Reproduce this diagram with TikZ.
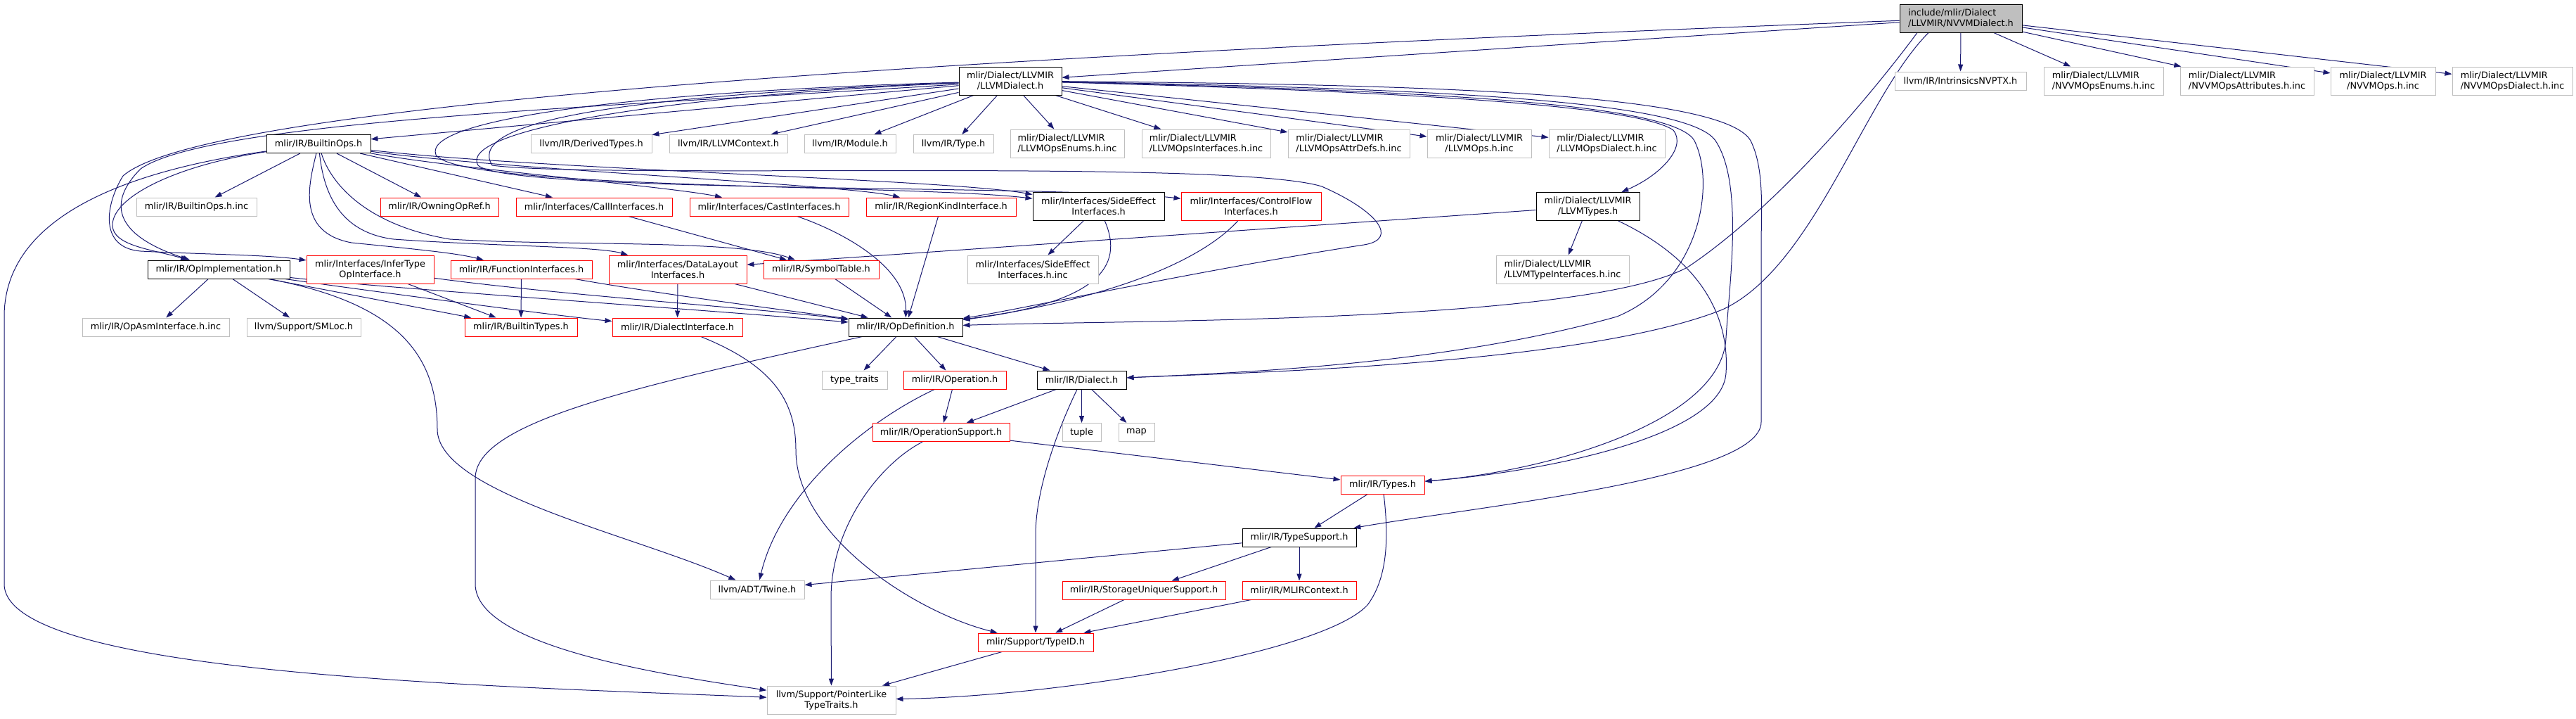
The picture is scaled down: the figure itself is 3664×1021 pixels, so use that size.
\documentclass[tikz,border=0pt]{standalone}
\usepackage{fontspec}
\setmainfont{DejaVu Sans}
\usetikzlibrary{arrows.meta,backgrounds}
\definecolor{edgeblue}{HTML}{191970}
\definecolor{greyborder}{HTML}{BFBFBF}
\definecolor{rootfill}{HTML}{BFBFBF}
\definecolor{redborder}{HTML}{FF0000}
\tikzset{
  box/.style={draw, fill=white, inner sep=0pt, line width=1pt, font=\fontsize{12.85}{15}\selectfont, align=center, minimum height=26pt},
  two/.style={minimum height=40pt},
  docbox/.style={box, draw=black},
  redbox/.style={box, draw=redborder},
  greybox/.style={box, draw=greyborder},
  rootbox/.style={box, draw=black, fill=rootfill},
  dep/.style={draw=edgeblue, line width=1pt, -{Triangle[length=10pt,width=7pt]}},
}
\begin{document}
\begin{tikzpicture}[x=1pt,y=-1pt]
\useasboundingbox (0,0) rectangle (3664,1021);
% row 0
\node[rootbox,two,minimum width=174pt,align=left] (root) at (2789,26) {include/mlir/Dialect\\/LLVMIR/NVVMDialect.h};
% row 1
\node[docbox,two,minimum width=146pt] (llvmd) at (1437,115) {mlir/Dialect/LLVMIR\\/LLVMDialect.h};
\node[greybox,minimum width=187pt] (nvptx) at (2788.5,115) {llvm/IR/IntrinsicsNVPTX.h};
\node[greybox,two,minimum width=170pt,align=left] (nenums) at (2992,115) {mlir/Dialect/LLVMIR\\/NVVMOpsEnums.h.inc};
\node[greybox,two,minimum width=190pt,align=left] (nattrs) at (3196,115) {mlir/Dialect/LLVMIR\\/NVVMOpsAttributes.h.inc};
\node[greybox,two,minimum width=149pt] (nops) at (3389.5,115) {mlir/Dialect/LLVMIR\\/NVVMOps.h.inc};
\node[greybox,two,minimum width=171pt,align=left] (ndial) at (3573.5,115) {mlir/Dialect/LLVMIR\\/NVVMOpsDialect.h.inc};
% row 2
\node[docbox,minimum width=148pt] (bops) at (453,204.5) {mlir/IR/BuiltinOps.h};
\node[greybox,minimum width=172pt] (dtypes) at (841,204.5) {llvm/IR/DerivedTypes.h};
\node[greybox,minimum width=168pt] (lctx) at (1036,204.5) {llvm/IR/LLVMContext.h};
\node[greybox,minimum width=130pt] (module) at (1209,204.5) {llvm/IR/Module.h};
\node[greybox,minimum width=114pt] (ltype) at (1356,204.5) {llvm/IR/Type.h};
\node[greybox,two,minimum width=162pt,align=left] (lenums) at (1518,204) {mlir/Dialect/LLVMIR\\/LLVMOpsEnums.h.inc};
\node[greybox,two,minimum width=183pt,align=left] (lifaces) at (1715.5,204) {mlir/Dialect/LLVMIR\\/LLVMOpsInterfaces.h.inc};
\node[greybox,two,minimum width=173pt,align=left] (lattrs) at (1918.5,204) {mlir/Dialect/LLVMIR\\/LLVMOpsAttrDefs.h.inc};
\node[greybox,two,minimum width=148pt] (lops) at (2104,204) {mlir/Dialect/LLVMIR\\/LLVMOps.h.inc};
\node[greybox,two,minimum width=165pt,align=left] (ldial) at (2285.5,204) {mlir/Dialect/LLVMIR\\/LLVMOpsDialect.h.inc};
% row 3
\node[greybox,minimum width=171pt] (bopsinc) at (279.5,294) {mlir/IR/BuiltinOps.h.inc};
\node[redbox,minimum width=168pt] (owning) at (625,294) {mlir/IR/OwningOpRef.h};
\node[redbox,minimum width=222pt] (call) at (845,294) {mlir/Interfaces/CallInterfaces.h};
\node[redbox,minimum width=226pt] (cast) at (1094,294) {mlir/Interfaces/CastInterfaces.h};
\node[redbox,minimum width=213pt] (region) at (1338.5,294) {mlir/IR/RegionKindInterface.h};
\node[docbox,two,minimum width=187pt] (side) at (1562.5,293.5) {mlir/Interfaces/SideEffect\\Interfaces.h};
\node[redbox,two,minimum width=199pt] (cflow) at (1779.5,293.5) {mlir/Interfaces/ControlFlow\\Interfaces.h};
\node[docbox,two,minimum width=147pt] (ltypes) at (2258.5,293.5) {mlir/Dialect/LLVMIR\\/LLVMTypes.h};
% row 4
\node[docbox,minimum width=202pt] (opimpl) at (311,383) {mlir/IR/OpImplementation.h};
\node[redbox,two,minimum width=181pt] (infer) at (526.5,383) {mlir/Interfaces/InferType\\OpInterface.h};
\node[redbox,minimum width=201pt] (func) at (741.5,383) {mlir/IR/FunctionInterfaces.h};
\node[redbox,two,minimum width=196pt] (dlayout) at (964,383) {mlir/Interfaces/DataLayout\\Interfaces.h};
\node[redbox,minimum width=164pt] (symtab) at (1168,383) {mlir/IR/SymbolTable.h};
\node[greybox,two,minimum width=186pt] (sideinc) at (1469,383) {mlir/Interfaces/SideEffect\\Interfaces.h.inc};
\node[greybox,two,minimum width=189pt,align=left] (ltypeinc) at (2222.5,383) {mlir/Dialect/LLVMIR\\/LLVMTypeInterfaces.h.inc};
% row 5
\node[greybox,minimum width=209pt] (asminc) at (221.5,465) {mlir/IR/OpAsmInterface.h.inc};
\node[greybox,minimum width=162pt] (smloc) at (432,465) {llvm/Support/SMLoc.h};
\node[redbox,minimum width=160pt] (btypes) at (741,465) {mlir/IR/BuiltinTypes.h};
\node[redbox,minimum width=185pt] (dialif) at (963.5,465) {mlir/IR/DialectInterface.h};
\node[docbox,minimum width=162pt] (opdef) at (1288,465) {mlir/IR/OpDefinition.h};
% row 6
\node[greybox,minimum width=93pt] (ttraits) at (1215.5,540) {type\_traits};
\node[redbox,minimum width=146pt] (operation) at (1358,540) {mlir/IR/Operation.h};
\node[docbox,minimum width=127pt] (dialect) at (1538.5,540) {mlir/IR/Dialect.h};
% row 7
\node[redbox,minimum width=195pt] (opsupp) at (1338.5,614.5) {mlir/IR/OperationSupport.h};
\node[greybox,minimum width=55pt] (tuple) at (1538.5,614.5) {tuple};
\node[greybox,minimum width=51pt] (map) at (1616.5,614.5) {map};
% lower rows
\node[redbox,minimum width=119pt] (types) at (1966.5,689) {mlir/IR/Types.h};
\node[docbox,minimum width=162pt] (typesupp) at (1848,764) {mlir/IR/TypeSupport.h};
\node[greybox,minimum width=134pt] (twine) at (1077,838) {llvm/ADT/Twine.h};
\node[redbox,minimum width=232pt] (storage) at (1627,839) {mlir/IR/StorageUniquerSupport.h};
\node[redbox,minimum width=162pt] (mlirctx) at (1848,839) {mlir/IR/MLIRContext.h};
\node[redbox,minimum width=164pt] (typeid) at (1473,913) {mlir/Support/TypeID.h};
\node[greybox,two,minimum width=183pt] (ptrlike) at (1182.5,995) {llvm/Support/PointerLike\\TypeTraits.h};

\begin{pgfonlayer}{background}
% root
\draw[dep] (root) -- (llvmd);
\draw[dep] (root) .. controls (1500,75) and (300,140) .. (175,250) .. controls (150,290) and (140,352) .. (200,357) .. controls (300,362) and (380,362) .. (infer);
\draw[dep] ([xshift=-62pt]root.south) .. controls (2650,150) and (2520,300) .. (2400,380) .. controls (2250,460) and (1600,455) .. (opdef);
\draw[dep] ([xshift=-46pt]root.south) .. controls (2650,140) and (2580,380) .. (2450,440) .. controls (2250,520) and (1750,530) .. (dialect);
\draw[dep] (root) -- (nvptx);
\draw[dep] (root) -- (nenums);
\draw[dep] (root) -- (nattrs);
\draw[dep] (root) -- (nops);
\draw[dep] (root) -- (ndial);
% LLVMDialect
\draw[dep] (llvmd) -- (bops);
\draw[dep] (llvmd) -- (dtypes);
\draw[dep] (llvmd) -- (lctx);
\draw[dep] (llvmd) -- (module);
\draw[dep] (llvmd) -- (ltype);
\draw[dep] (llvmd) -- (lenums);
\draw[dep] (llvmd) -- (lifaces);
\draw[dep] (llvmd) -- (lattrs);
\draw[dep] (llvmd) -- (lops);
\draw[dep] (llvmd) -- (ldial);
\draw[dep] (llvmd) .. controls (2000,130) and (2330,150) .. (2380,185) .. controls (2400,210) and (2360,250) .. (ltypes);
\draw[dep] (llvmd) .. controls (2000,125) and (2400,140) .. (2440,200) .. controls (2480,260) and (2460,400) .. (2455,480) .. controls (2450,600) and (2200,670) .. (types);
\draw[dep] (llvmd) .. controls (2000,120) and (2450,130) .. (2490,200) .. controls (2510,240) and (2505,300) .. (2505,350) -- (2505,600) .. controls (2505,680) and (2100,720) .. (typesupp);
\draw[dep] (llvmd) .. controls (2000,128) and (2380,145) .. (2410,200) .. controls (2440,260) and (2420,400) .. (2300,450) .. controls (2050,520) and (1750,530) .. (dialect);
\draw[dep] (llvmd) .. controls (900,135) and (660,170) .. (700,235) .. controls (850,255) and (1750,225) .. (1880,265) .. controls (1960,300) and (1990,340) .. (1940,348) .. controls (1700,385) and (1450,440) .. (opdef);
\draw[dep] (llvmd) .. controls (900,150) and (300,170) .. (200,240) .. controls (160,280) and (150,330) .. (opimpl);
\draw[dep] (llvmd) .. controls (900,130) and (600,170) .. (620,220) .. controls (650,270) and (1300,262) .. (side);
\draw[dep] (llvmd) .. controls (950,135) and (650,185) .. (680,235) .. controls (720,275) and (1500,262) .. (cflow);
% BuiltinOps
\draw[dep] (bops) -- (bopsinc);
\draw[dep] (bops) -- (owning);
\draw[dep] (bops) -- (call);
\draw[dep] (bops) .. controls (650,240) and (950,265) .. (cast);
\draw[dep] (bops) .. controls (700,240) and (1200,262) .. (region);
\draw[dep] (bops) .. controls (750,240) and (1350,255) .. (side);
\draw[dep] (bops) .. controls (250,235) and (160,280) .. (160,320) .. controls (160,350) and (220,355) .. (opimpl);
\draw[dep] (bops) .. controls (200,240) and (6,300) .. (6,450) -- (6,830) .. controls (6,960) and (700,975) .. (ptrlike);
\draw[dep] (bops) .. controls (440,260) and (420,330) .. (500,345) .. controls (600,355) and (650,360) .. (func);
\draw[dep] (bops) .. controls (460,270) and (480,330) .. (560,340) .. controls (700,350) and (850,350) .. (dlayout);
\draw[dep] (bops) .. controls (470,260) and (520,320) .. (640,340) .. controls (800,350) and (1050,340) .. (symtab);
% interfaces
\draw[dep] (call) -- (symtab);
\draw[dep] (cast) .. controls (1200,330) and (1290,380) .. (opdef);
\draw[dep] (region) -- (opdef);
\draw[dep] (side) -- (sideinc);
\draw[dep] (side) .. controls (1600,380) and (1560,430) .. (opdef);
\draw[dep] (cflow) .. controls (1700,380) and (1550,430) .. (opdef);
\draw[dep] (symtab) -- (opdef);
\draw[dep] (ltypes) -- (ltypeinc);
\draw[dep] (ltypes) -- (dlayout);
\draw[dep] (ltypes) .. controls (2420,370) and (2460,450) .. (2455,530) .. controls (2450,620) and (2200,670) .. (types);
% OpImplementation etc.
\draw[dep] (opimpl) -- (asminc);
\draw[dep] (opimpl) -- (smloc);
\draw[dep] (opimpl) -- (btypes);
\draw[dep] (opimpl) .. controls (500,410) and (800,450) .. (dialif);
\draw[dep] (opimpl) .. controls (550,410) and (1000,440) .. (opdef);
\draw[dep] (opimpl) .. controls (560,430) and (622,500) .. (622,610) .. controls (622,700) and (900,760) .. (twine);
\draw[dep] (infer) -- (btypes);
\draw[dep] (infer) .. controls (800,420) and (1100,440) .. (opdef);
\draw[dep] (func) -- (btypes);
\draw[dep] (func) .. controls (950,420) and (1150,445) .. (opdef);
\draw[dep] (dlayout) -- (dialif);
\draw[dep] (dlayout) -- (opdef);
% OpDefinition and below
\draw[dep] (opdef) -- (ttraits);
\draw[dep] (opdef) -- (operation);
\draw[dep] (opdef) -- (dialect);
\draw[dep] (opdef) .. controls (900,550) and (676,600) .. (676,680) -- (676,830) .. controls (676,920) and (950,960) .. (ptrlike);
\draw[dep] (dialif) .. controls (1100,520) and (1132,570) .. (1132,640) .. controls (1132,760) and (1300,870) .. (typeid);
\draw[dep] (operation) -- (opsupp);
\draw[dep] (operation) .. controls (1230,600) and (1110,700) .. (twine);
\draw[dep] (opsupp) -- (types);
\draw[dep] (opsupp) .. controls (1250,660) and (1182,750) .. (1182,850) -- (ptrlike);
\draw[dep] (dialect) -- (opsupp);
\draw[dep] (dialect) -- (tuple);
\draw[dep] (dialect) -- (map);
\draw[dep] (dialect) .. controls (1500,620) and (1473,700) .. (1473,760) -- (typeid);
\draw[dep] (types) -- (typesupp);
\draw[dep] (types) .. controls (1975,760) and (1975,820) .. (1945,860) .. controls (1880,930) and (1500,990) .. (ptrlike);
\draw[dep] (typesupp) -- (twine);
\draw[dep] (typesupp) -- (storage);
\draw[dep] (typesupp) -- (mlirctx);
\draw[dep] (storage) -- (typeid);
\draw[dep] (mlirctx) -- (typeid);
\draw[dep] (typeid) -- (ptrlike);
\end{pgfonlayer}
\end{tikzpicture}
\end{document}
